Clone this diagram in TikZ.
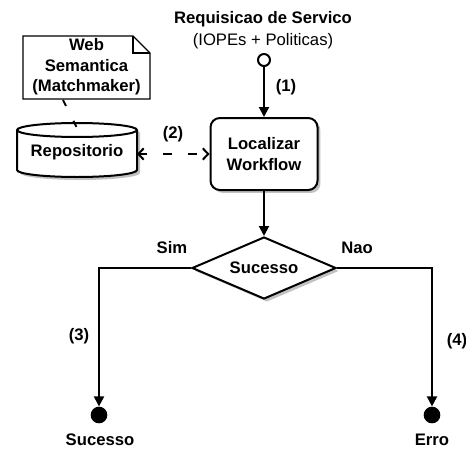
\documentclass[tikz,border=0pt]{standalone}
\usepackage{fontspec}
\setmainfont{Liberation Sans}
\usetikzlibrary{arrows.meta,shapes.geometric,shadows}
\begin{document}
\begin{tikzpicture}[x=0.75pt,y=-0.75pt,
  every node/.style={font=\fontsize{12.5}{15.4}\selectfont\bfseries, align=center, inner sep=0pt},
  regular/.style={font=\fontsize{12.5}{15.4}\selectfont},
  ln/.style={line width=1.5pt, draw=black},
  sarrow/.style={ln, -{Triangle[length=7.5pt,width=7.5pt]}},
  darrow/.style={ln, dash pattern=on 6.75pt off 12pt, dash phase=0.75pt,
    {Straight Barb[length=4pt,width=8.5pt]}-{Straight Barb[length=4pt,width=8.5pt]}},
  notelink/.style={ln, dash pattern=on 5pt off 12.5pt},
  shade/.style={drop shadow={shadow xshift=2.2pt, shadow yshift=-2.2pt, fill=black!30, opacity=0.8}},
  stepbox/.style={ln, rounded corners=7pt, fill=white, minimum width=80.25pt, minimum height=54pt, shade},
  decision/.style={ln, diamond, fill=white, minimum width=108pt, minimum height=46.5pt, aspect=2.3, shade},
  startdot/.style={ln, circle, fill=white, minimum size=9pt},
  enddot/.style={circle, fill=black, minimum size=12.5pt}
]
\useasboundingbox (0,0) rectangle (466,449);

% title
\node (req) at (263,19) {Requisicao de Servico};
\node[regular] (iop) at (263,41) {(IOPEs + Politicas)};

% start
\node[startdot] (start) at (264,60) {};

% main box
\node[stepbox] (loc) at (264,154) {Localizar\\Workflow};

% repository cylinder
\fill[black!30, opacity=0.8, shift={(3,3)}] (17,130) -- (17,170) arc[start angle=180, end angle=0, x radius=60, y radius=7] -- (137,130) arc[start angle=0, end angle=-180, x radius=60, y radius=7] -- cycle;
\filldraw[ln, fill=white] (17,130) -- (17,170) arc[start angle=180, end angle=0, x radius=60, y radius=7] -- (137,130) arc[start angle=0, end angle=-180, x radius=60, y radius=7] -- cycle;
\draw[ln] (17,130) arc[start angle=180, end angle=0, x radius=60, y radius=7];
\node[minimum width=90pt, minimum height=40.5pt] (repo) at (77,152) {Repositorio};
\coordinate (repoE) at (137,154);
\coordinate (repoTop) at (77,128);

% note
\filldraw[line width=1pt, fill=white] (23,36) -- (133,36) -- (150,53) -- (150,99) -- (23,99) -- cycle;
\draw[line width=1pt] (133,36) -- (133,53) -- (150,53);
\node (note) at (86.5,67) {Web\\Semantica\\(Matchmaker)};
\coordinate (noteB) at (63,100);

% decision
\node[decision] (dec) at (264,268) {Sucesso};

% ends
\node[enddot] (okend) at (99,415) {};
\node[enddot] (errend) at (432,415) {};
\node (oklab) at (100,440) {Sucesso};
\node (errlab) at (432,440) {Erro};

% connectors
\draw[sarrow] (start) -- (loc);
\draw[darrow] (repoE) -- (loc.west);
\draw[notelink] (noteB) -- (repoTop);
\draw[sarrow] (loc) -- (dec);
\draw[sarrow] (dec.west) -| (okend);
\draw[sarrow] (dec.east) -| (errend);

% labels
\node (l1) at (286,87) {(1)};
\node (l2) at (173,134) {(2)};
\node (lsim) at (172,248) {Sim};
\node (lnao) at (357,248) {Nao};
\node (l3) at (79,336) {(3)};
\node (l4) at (457,341) {(4)};
\end{tikzpicture}
\end{document}
